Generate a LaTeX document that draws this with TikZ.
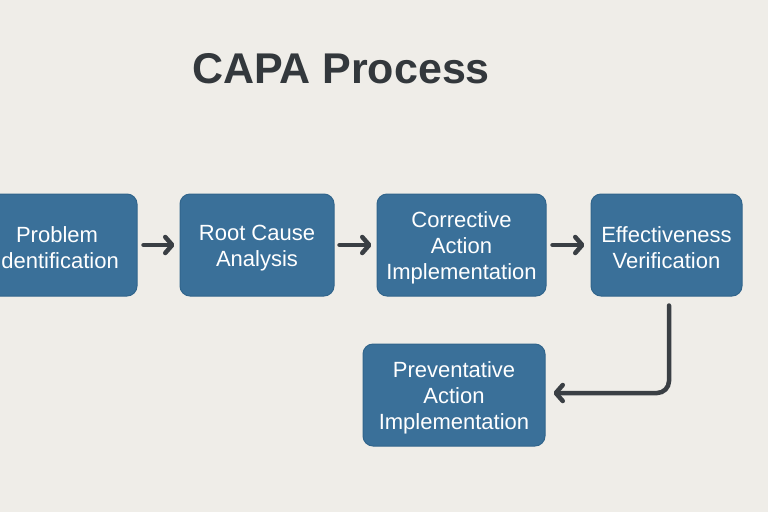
\documentclass[tikz,border=0pt]{standalone}
\usepackage{fontspec}
\setmainfont{Liberation Sans}
\usetikzlibrary{arrows.meta}
\definecolor{bg}{HTML}{EFEDE8}
\definecolor{boxfill}{HTML}{3A7099}
\definecolor{boxline}{HTML}{31658C}
\definecolor{arrowc}{HTML}{3A3F44}
\definecolor{titlec}{HTML}{33383C}
\tikzset{
  stepbox/.style={draw=boxline, line width=1pt, fill=boxfill, rounded corners=10pt,
    inner sep=0pt, minimum height=102pt},
  steptext/.style={text=white, align=center, inner sep=0pt, yshift=-3pt,
    font=\fontsize{22}{26}\selectfont},
  flowarrow/.style={draw=arrowc, line width=4.5pt, line cap=round,
    -{Straight Barb[length=7pt, width=16pt, line cap=round, line join=round]}}
}
\begin{document}
\begin{tikzpicture}[x=1pt, y=-1pt]
\useasboundingbox (0,0) rectangle (768,512);
\fill[bg] (0,0) rectangle (768,512);
\clip (0,0) rectangle (768,512);
\node[text=titlec, font=\fontsize{43}{50}\selectfont\bfseries, anchor=base] (title) at (341,83) {CAPA Process};
\node[stepbox, minimum width=160pt] (n1) at (57,245) {};
\node[stepbox, minimum width=154pt] (n2) at (257,245) {};
\node[stepbox, minimum width=169pt] (n3) at (461.5,245) {};
\node[stepbox, minimum width=151pt] (n4) at (666.5,245) {};
\node[stepbox, minimum width=182pt] (n5) at (454,395) {};
\node[steptext] (t1) at (n1.center) {Problem\\Identification};
\node[steptext] (t2) at (n2.center) {Root Cause\\Analysis};
\node[steptext] (t3) at (n3.center) {Corrective\\Action\\Implementation};
\node[steptext] (t4) at (n4.center) {Effectiveness\\Verification};
\node[steptext] (t5) at (n5.center) {Preventative\\Action\\Implementation};
\draw[flowarrow] ([xshift=6pt]n1.east) -- ([xshift=-5pt]n2.west);
\draw[flowarrow] ([xshift=5pt]n2.east) -- ([xshift=-5pt]n3.west);
\draw[flowarrow] ([xshift=6pt]n3.east) -- ([xshift=-6pt]n4.west);
\draw[flowarrow, rounded corners=12pt] ([xshift=2.5pt, yshift=-9pt]n4.south) |- ([xshift=8pt, yshift=2pt]n5.east);
\end{tikzpicture}
\end{document}
